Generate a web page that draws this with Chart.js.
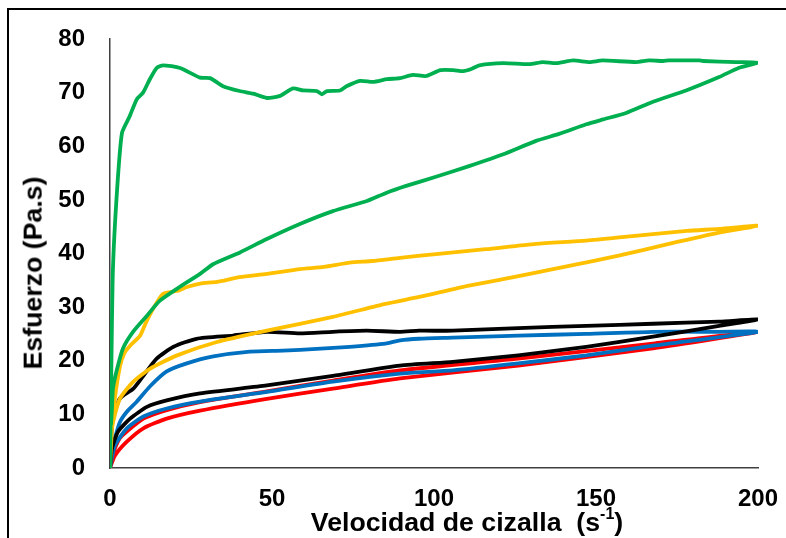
<!DOCTYPE html>
<html>
<head>
<meta charset="utf-8">
<script src="https://cdn.jsdelivr.net/npm/chart.js@4/dist/chart.umd.min.js"></script>
<style>
  html, body { margin:0; padding:0; background:#fff; overflow:hidden; width:786px; height:538px; }
  #wrap { position:relative; width:786px; height:538px; }
  #frame { position:absolute; left:7px; top:8px; width:900px; height:700px; border:2px solid #000; box-sizing:border-box; }
  canvas { position:absolute; left:0; top:0; }
  .title { position:absolute; font-family:"Liberation Sans", Arial, sans-serif; font-weight:bold; color:#000; white-space:nowrap; line-height:1; }
  #xtitle { left:467px; top:509px; font-size:26.7px; transform:translateX(-50%); }
  #xtitle sup { font-size:60%; vertical-align:0; position:relative; top:-0.75em; }
  #ytitle { left:33px; top:273px; font-size:26.7px; transform:translate(-50%,-50%) rotate(-90deg); }
</style>
</head>
<body>
<div id="wrap">
  <div id="frame"></div>
  <canvas id="c" width="786" height="538"></canvas>
  <div class="title" id="xtitle">Velocidad de cizalla&nbsp;&nbsp;(s<sup>-1</sup>)</div>
  <div class="title" id="ytitle">Esfuerzo (Pa.s)</div>
</div>
<script>
// Tick labels
const xTicks = [0, 50, 100, 150, 200];
const yTicks = [0, 10, 20, 30, 40, 50, 60, 70, 80];

// Green loop
const greenUpX = [0, 0.4, 0.9, 2.2, 3.7, 6, 8.3, 10.2, 12.3, 14.4, 16.4, 21.6, 27.8, 30.9, 34.9, 40, 44.2, 48.4, 52.5, 56.5, 59.6, 63.8, 65.4, 67, 71, 73, 77.2, 81.2, 85.5, 89.5, 93.5, 97.5, 102, 106, 109, 111.5, 114, 121.4, 129.4, 133.6, 137.7, 143, 148, 152, 162.3, 166.4, 170.7, 172.5, 181.8, 183, 193.2, 200];
const greenUpY = [0, 18, 37, 52, 62.5, 65.5, 68.8, 70, 72.5, 74.6, 75.1, 74.6, 72.8, 72.7, 71.2, 70.3, 69.8, 69, 69.4, 70.8, 70.4, 70.3, 69.7, 70.3, 70.4, 71.2, 72.2, 72, 72.5, 72.7, 73.3, 73.1, 74.2, 74.2, 74, 74.4, 75.1, 75.5, 75.3, 75.7, 75.5, 76, 75.7, 76, 75.7, 76, 75.9, 76, 76, 75.9, 75.7, 75.6];
const greenDownX = [200, 194, 188, 177.8, 167.6, 159.3, 152.2, 147, 138.6, 131.5, 121.4, 110.8, 100.6, 91.4, 85.2, 79.3, 68.8, 58.6, 48.4, 40.1, 31.8, 27.8, 21.6, 15.4, 11.4, 7.1, 4, 2.2, 0.9, 0.6, 0.3];
const greenDownY = [75.6, 74.6, 72.9, 70.4, 68.3, 66.2, 65, 64.1, 62.3, 61, 58.5, 56.3, 54.3, 52.6, 51.3, 49.8, 47.9, 45.5, 42.7, 40.2, 38, 36.2, 33.8, 31.2, 28.4, 25.4, 22.3, 18.5, 14.8, 11.1, 8];

// Yellow loop
const yellowUpX = [0, 0.3, 0.6, 1.5, 3.1, 4.5, 6.2, 9.3, 11, 13.3, 16.4, 20.6, 24, 27.8, 33, 40, 48.4, 58.6, 66, 74, 81, 89.5, 100.6, 116, 131.5, 147, 162, 178, 188, 200];
const yellowUpY = [0, 4, 7.4, 13, 19, 21.5, 22.8, 24.7, 27, 29.7, 32.5, 33, 33.8, 34.4, 34.7, 35.6, 36.2, 37.1, 37.5, 38.3, 38.6, 39.2, 39.9, 40.8, 41.8, 42.4, 43.3, 44.2, 44.6, 45.2];
const yellowDownX = [200, 188, 172.5, 157, 141.7, 128, 110.8, 95.4, 85, 68.8, 48.4, 33, 20.7, 12.3, 7.2, 3.1, 1, 0];
const yellowDownY = [45.2, 43.9, 41.8, 39.6, 37.7, 36, 34, 31.9, 30.6, 28.2, 25.6, 23.5, 21, 18.5, 16.1, 13, 8.7, 5];

// Black loop
const blackUpX = [0, 0.3, 0.6, 1.5, 3.1, 7.2, 10.3, 14.4, 19.6, 26.7, 38, 48.4, 58.6, 68.8, 79.2, 89.5, 95.4, 105.8, 126, 147, 167.6, 188, 200];
const blackUpY = [0, 4, 8, 10.5, 13, 14.8, 17.2, 20.4, 22.6, 24.1, 24.7, 25.4, 25.1, 25.4, 25.6, 25.4, 25.6, 25.6, 26.1, 26.5, 26.9, 27.3, 27.7];
const blackDownX = [200, 188, 167.6, 147, 126, 105.8, 89.5, 68.8, 48.4, 27.8, 17.5, 11.4, 6.2, 2.5, 0.6, 0];
const blackDownY = [27.7, 26.5, 24.5, 22.6, 21, 19.8, 19.1, 17.2, 15.4, 13.9, 12.6, 11.4, 9.2, 6.8, 3.6, 0];

// Blue loop
const blueUpX = [0, 0.5, 1.5, 3, 5.2, 8.3, 12.3, 17.5, 23.7, 31.9, 43.2, 53.4, 63.8, 74, 85, 89.5, 95.4, 105.8, 126, 147, 167.6, 188, 200];
const blueUpY = [0, 3, 5.5, 8.5, 10.5, 12.4, 15.2, 18, 19.5, 20.8, 21.7, 21.9, 22.2, 22.6, 23.2, 23.8, 24.1, 24.3, 24.7, 25, 25.4, 25.4, 25.4];
const blueDownX = [200, 167.6, 147, 126, 105.8, 89.5, 68.8, 48.4, 27.8, 17.5, 10.3, 5.2, 1.5, 0];
const blueDownY = [25.4, 22.8, 21, 19.5, 18.2, 17.6, 16.1, 14.2, 12.4, 11.1, 9.6, 7.4, 4.2, 0];

// Red loop
const redUpX = [0, 0.5, 1.5, 3, 5.2, 10.3, 17.5, 27.8, 48.4, 68.8, 89.5, 126, 167.6, 200];
const redUpY = [0, 1.5, 3.6, 5.5, 6.8, 9.2, 10.8, 12.3, 14.3, 16.3, 18.2, 20.4, 23.2, 25.4];
const redDownX = [200, 167.6, 126, 89.5, 68.8, 48.4, 27.8, 17.5, 10.3, 5.2, 1.5, 0];
const redDownY = [25.3, 22.3, 19.1, 16.7, 14.8, 12.9, 10.7, 9.2, 7.4, 4.9, 2.3, 0];

function pts(xs, ys) { return xs.map((x, i) => ({ x: x, y: ys[i] })); }
function loop(xu, yu, xd, yd) { return pts(xu, yu).concat(pts(xd, yd).slice(1)); }

const lineStyle = { showLine: true, pointRadius: 0, borderWidth: 3.8, tension: 0.2, fill: false };

const datasets = [
  Object.assign({ label: 'Verde', data: loop(greenUpX, greenUpY, greenDownX, greenDownY), borderColor: '#00B050' }, lineStyle),
  Object.assign({ label: 'Amarillo', data: loop(yellowUpX, yellowUpY, yellowDownX, yellowDownY), borderColor: '#FFC000' }, lineStyle),
  Object.assign({ label: 'Negro', data: loop(blackUpX, blackUpY, blackDownX, blackDownY), borderColor: '#000000' }, lineStyle),
  Object.assign({ label: 'Azul', data: loop(blueUpX, blueUpY, blueDownX, blueDownY), borderColor: '#0070C0' }, lineStyle),
  Object.assign({ label: 'Rojo', data: loop(redUpX, redUpY, redDownX, redDownY), borderColor: '#FF0000' }, lineStyle)
];

const tickFont = { family: '"Liberation Sans", Arial, sans-serif', size: 24, weight: 'bold' };

new Chart(document.getElementById('c'), {
  type: 'scatter',
  data: { datasets: datasets },
  options: {
    responsive: false,
    animation: false,
    devicePixelRatio: 1,
    layout: { padding: { top: 39, right: 28, left: 0, bottom: 0 } },
    plugins: { legend: { display: false }, tooltip: { enabled: false } },
    scales: {
      x: {
        type: 'linear', min: 0, max: 200,
        afterBuildTicks: s => { s.ticks = xTicks.map(v => ({ value: v })); },
        afterFit: s => { s.height = 70; s.paddingLeft = 0; s.paddingRight = 0; },
        grid: { display: false, drawTicks: false },
        border: { display: true, color: '#404040', width: 1.5 },
        ticks: { font: tickFont, color: '#000', padding: 17, maxRotation: 0 }
      },
      y: {
        type: 'linear', min: 0, max: 80,
        afterBuildTicks: s => { s.ticks = yTicks.map(v => ({ value: v })); },
        afterFit: s => { s.width = 110; s.paddingTop = 0; s.paddingBottom = 0; },
        grid: { display: false, drawTicks: false },
        border: { display: true, color: '#404040', width: 1.5 },
        ticks: { font: tickFont, color: '#000', padding: 25 }
      }
    }
  }
});
</script>
</body>
</html>
